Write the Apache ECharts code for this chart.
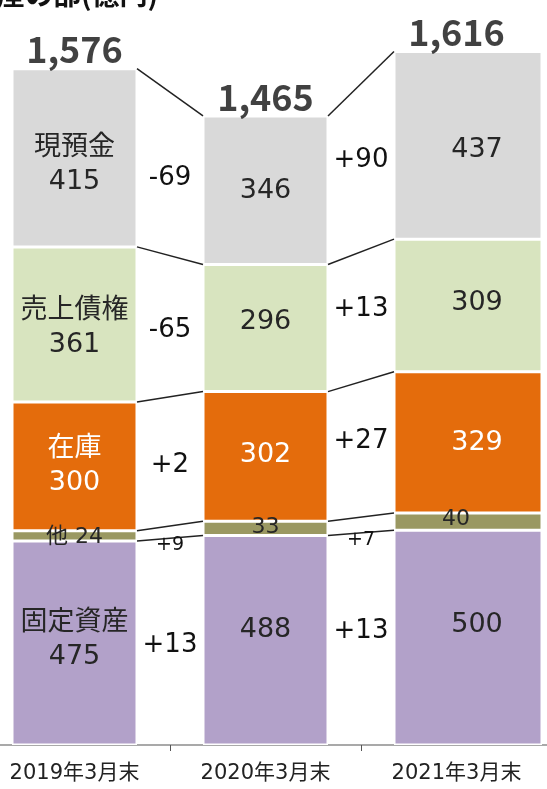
<!DOCTYPE html>
<html>
<head>
<meta charset="utf-8">
<script src="https://cdn.jsdelivr.net/npm/echarts@6/dist/echarts.min.js"></script>
<style>
html, body { margin: 0; padding: 0; background: #fff; }
#main { width: 547px; height: 789px; }
</style>
</head>
<body>
<div id="main"></div>
<script>
var years = ['2019年3月末', '2020年3月末', '2021年3月末'];
var totals = [1576, 1465, 1616];
// 下から積み上げる順
var segNames = ['固定資産', '他', '在庫', '売上債権', '現預金'];
var fixedAssets = [475, 488, 500];
var others = [24, 33, 40];
var inventory = [300, 302, 329];
var receivables = [361, 296, 309];
var cash = [415, 346, 437];
// 増減（下から）
var diff1920 = ['+13', '+9', '+2', '-65', '-69'];
var diff2021 = ['+13', '+7', '+27', '+13', '+90'];

var segs = [fixedAssets, others, inventory, receivables, cash];
var colors = ['#b2a1c9', '#9a9862', '#e46c0c', '#d8e4bf', '#d9d9d9'];
var FONT = '"Noto Sans CJK JP", "Noto Sans", sans-serif';
// メイリオ風: 数字はVerdana系、和文はNoto
var FONT_NUM = '"DejaVu Sans", "Noto Sans CJK JP", sans-serif';
var BAR_W = 125;      // 2019, 2020
var BAR_W_LAST = 148; // 2021は右に広い
// ラベルの微調整(px) 下から順
var labelDy = [[-3, -10, -13], [1, -1, -2], [0, -1, 1], [4, -6, -3], [7, 1, 5]];
var labelDxLast = [9, -12, 9, 9, 9];

// 各境界の累計
var tops = [];
for (var i = 0; i < 3; i++) {
    var acc = 0, arr = [];
    for (var k = 0; k < segs.length; k++) {
        acc += segs[k][i];
        arr.push(acc);
    }
    tops.push(arr);
}

var myChart = echarts.init(document.getElementById('main'));

function barSeries(k, stack, idxList, width) {
    var isOther = k === 1;
    var data = [0, 1, 2].map(function (i) {
        if (idxList.indexOf(i) < 0) return '-';
        return {
            value: segs[k][i],
            label: { offset: [i === 2 ? labelDxLast[k] : 0, labelDy[k][i]] }
        };
    });
    return {
        name: segNames[k],
        type: 'bar',
        stack: stack,
        barWidth: width,
        barGap: '-100%',
        data: data,
        itemStyle: { color: colors[k], borderColor: '#fff', borderWidth: 1.5 },
        label: {
            show: true,
            position: 'inside',
            fontFamily: FONT_NUM,
            fontSize: isOther ? 22 : 27,
            lineHeight: 34,
            color: k === 2 ? '#fff' : '#262626',
            formatter: function (p) {
                if (p.dataIndex !== 0) return p.value;
                return isOther ? segNames[k] + ' ' + p.value : segNames[k] + '\n' + p.value;
            }
        }
    };
}

var seriesData = [];
// 広い棒を先に置くと、両方とも左端がそろう
segs.forEach(function (d, k) { seriesData.push(barSeries(k, 'last', [2], BAR_W_LAST)); });
segs.forEach(function (d, k) { seriesData.push(barSeries(k, 'first', [0, 1], BAR_W)); });

// 合計
seriesData.push({
    type: 'scatter',
    data: totals,
    symbolSize: 1,
    itemStyle: { color: 'rgba(0,0,0,0)' },
    label: {
        show: true,
        position: 'top',
        distance: 0,
        fontFamily: FONT,
        fontSize: 36,
        fontWeight: 'bold',
        color: '#111',
        formatter: function (p) { return p.value.toLocaleString('en-US'); }
    },
    z: 5
});

// 連結線
var linkData = [];
for (var i = 0; i < 2; i++) {
    for (var k = 0; k < segs.length; k++) {
        linkData.push([i, tops[i][k], tops[i + 1][k]]);
    }
}
seriesData.push({
    type: 'custom',
    data: linkData,
    z: 6,
    renderItem: function (params, api) {
        var i = api.value(0);
        var half = BAR_W / 2;
        var p1 = api.coord([i, api.value(1)]);
        var p2 = api.coord([i + 1, api.value(2)]);
        return {
            type: 'line',
            shape: { x1: p1[0] + half, y1: p1[1], x2: p2[0] - half, y2: p2[1] },
            style: { stroke: '#222', lineWidth: 1.5 }
        };
    }
});

// 増減ラベル
var diffData = [];
[diff1920, diff2021].forEach(function (diffs, i) {
    diffs.forEach(function (txt, k) {
        var midL = tops[i][k] - segs[k][i] / 2;
        var midR = tops[i + 1][k] - segs[k][i + 1] / 2;
        var v = k === 1 ? (tops[i][0] + tops[i + 1][0]) / 2 : (midL + midR) / 2;
        diffData.push([i, v, k, txt]);
    });
});
seriesData.push({
    type: 'custom',
    data: diffData,
    z: 7,
    renderItem: function (params, api) {
        var i = api.value(0);
        var k = api.value(2);
        var a = api.coord([i, api.value(1)]);
        var b = api.coord([i + 1, api.value(1)]);
        var small = k === 1;
        var dy = small ? 7 : (i === 1 ? -8 : 4);
        return {
            type: 'text',
            x: (a[0] + b[0]) / 2,
            y: a[1] + dy,
            style: {
                text: diffData[params.dataIndex][3],
                fontFamily: FONT_NUM,
                fontSize: small ? 19 : 26,
                fill: '#111',
                align: 'center',
                verticalAlign: 'middle'
            }
        };
    }
});

var option = {
    backgroundColor: '#fff',
    animation: false,
    graphic: [{
        type: 'text',
        left: -31,
        top: -20,
        style: {
            text: '資産の部(億円)',
            fontFamily: FONT,
            fontSize: 28,
            fontWeight: 'bold',
            fill: '#111'
        }
    }],
    grid: { left: -21, right: -5, top: 15, bottom: 44, containLabel: false, outerBoundsMode: 'none' },
    xAxis: {
        type: 'category',
        data: years,
        axisLine: { lineStyle: { color: '#8c8c8c', width: 1.5 } },
        axisTick: { show: true, length: 6, lineStyle: { color: '#555' } },
        axisLabel: { fontFamily: FONT_NUM, fontSize: 21, color: '#222', margin: 18, hideOverlap: false, interval: 0 }
    },
    yAxis: {
        type: 'value',
        min: 0,
        max: 1700,
        show: false,
        splitLine: { show: false }
    },
    series: seriesData
};
myChart.setOption(option);
</script>
</body>
</html>
